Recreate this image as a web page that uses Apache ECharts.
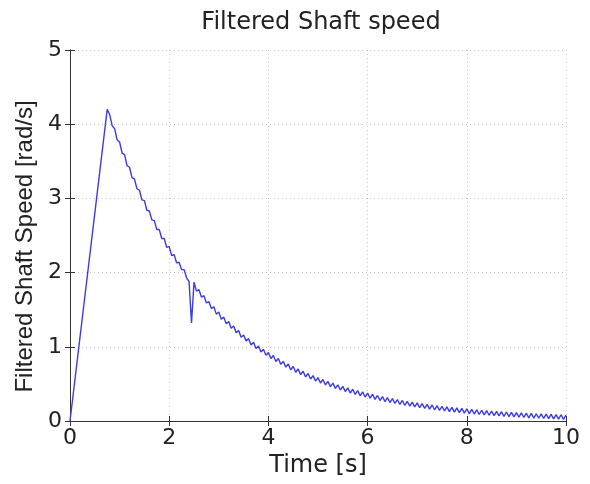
<!DOCTYPE html>
<html>
<head>
<meta charset="utf-8">
<script src="https://cdn.jsdelivr.net/npm/echarts@6/dist/echarts.min.js"></script>
<style>
  html, body { margin: 0; padding: 0; background: #fff; }
  #chart { width: 590px; height: 484px; }
</style>
</head>
<body>
<div id="chart"></div>
<script>
// ramp up from rest
var riseTimes = [0];
var riseValues = [0];

var decayStart = 0.75;
var decayStep = 0.05;
var decayValues = [
    4.20, 4.13, 3.98, 3.94, 3.79, 3.76, 3.61, 3.59, 3.44, 3.42,
    3.28, 3.26, 3.13, 3.11, 2.98, 2.97, 2.84, 2.83, 2.71, 2.70,
    2.58, 2.58, 2.46, 2.46, 2.34, 2.35, 2.23, 2.24, 2.13, 2.14,
    2.04, 2.04, 1.93, 1.88, 1.32, 1.87, 1.75, 1.77, 1.67, 1.69,
    1.59, 1.61, 1.515, 1.54, 1.44, 1.47, 1.37, 1.40, 1.31, 1.34,
    1.25, 1.28, 1.19, 1.22, 1.13, 1.16, 1.08, 1.11, 1.025, 1.06,
    0.976, 1.012, 0.929, 0.967, 0.885, 0.923, 0.842, 0.882, 0.801, 0.842,
    0.763, 0.804, 0.726, 0.768, 0.691, 0.734, 0.657, 0.701, 0.625, 0.670,
    0.595, 0.640, 0.566, 0.612, 0.538, 0.585, 0.512, 0.559, 0.486, 0.534,
    0.462, 0.511, 0.440, 0.488, 0.418, 0.467, 0.397, 0.447, 0.377, 0.428,
    0.358, 0.409, 0.340, 0.392, 0.323, 0.375, 0.307, 0.359, 0.291, 0.344,
    0.276, 0.329, 0.262, 0.315, 0.249, 0.302, 0.236, 0.289, 0.223, 0.277,
    0.212, 0.266, 0.200, 0.255, 0.190, 0.244, 0.179, 0.234, 0.170, 0.225,
    0.160, 0.216, 0.151, 0.207, 0.143, 0.199, 0.135, 0.191, 0.127, 0.184,
    0.120, 0.176, 0.113, 0.170, 0.106, 0.163, 0.100, 0.157, 0.094, 0.151,
    0.088, 0.145, 0.083, 0.140, 0.077, 0.135, 0.072, 0.130, 0.068, 0.125,
    0.063, 0.121, 0.059, 0.117, 0.055, 0.113, 0.051, 0.109, 0.047, 0.105,
    0.043, 0.102, 0.040, 0.098, 0.037, 0.095, 0.034, 0.092, 0.031, 0.089,
    0.028, 0.087, 0.025, 0.084, 0.023, 0.081
];

var xTicks = [0, 2, 4, 6, 8, 10];
var yTicks = [0, 1, 2, 3, 4, 5];

var points = [];
for (var i = 0; i < riseTimes.length; i++) {
    points.push([riseTimes[i], riseValues[i]]);
}
for (var j = 0; j < decayValues.length; j++) {
    points.push([+(decayStart + j * decayStep).toFixed(2), decayValues[j]]);
}

// the source figure is stretched sideways, so the wider DejaVu face stands in for horizontal text
var wideFont = "'DejaVu Sans', sans-serif";
var narrowFont = "'Liberation Sans', Arial, sans-serif";
var gridLine = { show: true, lineStyle: { color: "#c8c8c8", type: [1, 3], width: 1 } };
var frameLine = { show: true, lineStyle: { color: "#333", width: 1 } };
var innerTick = { show: true, inside: true, length: 5, lineStyle: { color: "#333" } };

var chart = echarts.init(document.getElementById("chart"));
chart.setOption({
    backgroundColor: "#fff",
    animation: false,
    title: {
        text: "Filtered Shaft speed",
        left: 316,
        top: 6,
        textAlign: "center",
        textStyle: { fontFamily: wideFont, fontSize: 24, fontWeight: "normal", color: "#222" }
    },
    grid: { left: 70, right: 24, top: 50, bottom: 63 },
    xAxis: [
        {
            type: "value",
            min: xTicks[0],
            max: xTicks[xTicks.length - 1],
            interval: 2,
            name: "Time [s]",
            nameLocation: "middle",
            nameGap: 27,
            nameTextStyle: { fontFamily: wideFont, fontSize: 24, color: "#222" },
            axisLine: frameLine,
            axisTick: innerTick,
            axisLabel: { fontFamily: wideFont, fontSize: 22, color: "#222", margin: 6 },
            splitLine: gridLine
        },
        {
            type: "value",
            position: "top",
            min: xTicks[0],
            max: xTicks[xTicks.length - 1],
            interval: 2,
            axisLine: frameLine,
            axisTick: innerTick,
            axisLabel: { show: false },
            splitLine: { show: false }
        }
    ],
    yAxis: [
        {
            type: "value",
            min: yTicks[0],
            max: yTicks[yTicks.length - 1],
            interval: 1,
            name: "Filtered Shaft Speed [rad/s]",
            nameLocation: "middle",
            nameGap: 29,
            nameTextStyle: { fontFamily: narrowFont, fontSize: 24, color: "#222", padding: [0, 22, 0, 0] },
            axisLine: frameLine,
            axisTick: innerTick,
            axisLabel: { fontFamily: wideFont, fontSize: 22, color: "#222", margin: 8 },
            splitLine: gridLine
        },
        {
            type: "value",
            position: "right",
            min: yTicks[0],
            max: yTicks[yTicks.length - 1],
            interval: 1,
            axisLine: frameLine,
            axisTick: innerTick,
            axisLabel: { show: false },
            splitLine: { show: false }
        }
    ],
    series: [
        {
            type: "line",
            data: points,
            showSymbol: false,
            symbol: "none",
            lineStyle: { color: "#3a3ae8", width: 1.4 },
            clip: true
        }
    ]
});
</script>
</body>
</html>
